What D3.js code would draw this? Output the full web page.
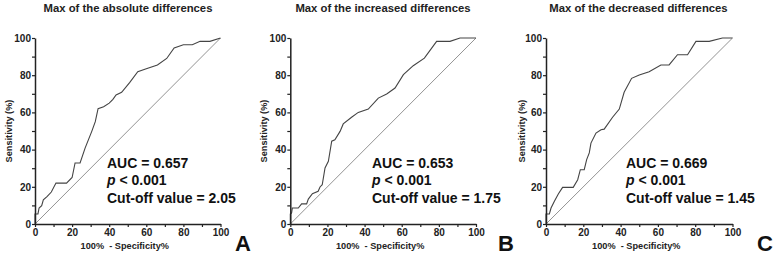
<!DOCTYPE html>
<html>
<head>
<meta charset="utf-8">
<script src="https://cdn.jsdelivr.net/npm/d3@7"></script>
<style>
  html, body { margin: 0; padding: 0; background: #fff; }
  svg { display: block; }
  text { font-family: "Liberation Sans", Arial, sans-serif; }
</style>
</head>
<body>
<svg id="chart" width="776" height="256"></svg>
<script>
// ---- data ----
const titles = ["Max of the absolute differences", "Max of the increased differences", "Max of the decreased differences"];
const panelLetters = ["A", "B", "C"];
const aucValues = ["0.657", "0.653", "0.669"];
const pValues = ["< 0.001", "< 0.001", "< 0.001"];
const cutoffValues = ["2.05", "1.75", "1.45"];
const tickValues = [0, 10, 20, 30, 40, 50, 60, 70, 80, 90, 100];
const tickLabels = ["0", "", "20", "", "40", "", "60", "", "80", "", "100"];
const xLabel = "100%  - Specificity%";
const yLabel = "Sensitivity (%)";

// ROC curves: 100-specificity (x) and sensitivity (y)
const fprA = [0,0,1.6,2.2,3.6,4.5,6.6,8.8,11.3,17,20,21.6,24.3,27,30.6,32.5,34,37,40,42,43.7,46.7,51,55.4,60,66,71,75,80,84.8,89,94.3,100];
const tprA = [0,5.4,5.4,8.6,9.9,13,14.9,17.2,22,22,25,32.8,32.8,40.8,49.8,55,62,63,65,67,69.4,70.8,76,81.9,83.5,85.5,89,94.6,96.4,96.4,98.2,98.2,100];
const fprB = [0,0,0.7,1.1,4.3,6.1,8.8,9.7,11.9,15,16,17.2,18.7,20.5,22.3,24,26.8,28.5,33,36.6,42,47.4,51.9,56.4,60.9,66.2,72.2,78.8,86,91.4,100];
const tprB = [0,5.4,5.9,8.6,8.6,10.8,10.8,13.4,16.3,17.6,19.9,21.1,30.1,33.7,44.5,45.3,49.8,53.8,57.4,60,61.8,67.7,69.9,73.1,80.3,85.1,89.2,98.2,98.2,100,100];
const fprC = [0,0,1.8,2.7,4.5,6.6,8.9,14.6,17,18.4,20.5,21.8,23.2,24.1,26.8,29.5,31.2,35.7,39.3,41.9,45.9,50,55.3,61.6,66,70.5,75.9,80.4,87.5,94.6,100];
const tprC = [0,5.4,5.4,8.6,12.2,16.1,19.7,19.7,23.8,29.2,29.2,34.6,38.2,43.5,48.9,50.7,51,57.4,61.8,70.8,78.3,80.1,81.9,85.5,85.5,91,91,98.2,98.2,100,100];

const curves = [[fprA, tprA], [fprB, tprB], [fprC, tprC]];

// ---- layout ----
const layout = [
  { x0: 35,    x1: 220.5, titleX: 128,   letterX: 235, statX: 107, yLabX: 9 },
  { x0: 290.3, x1: 476,   titleX: 383,   letterX: 498, statX: 372, yLabX: 264 },
  { x0: 546,   x1: 732.5, titleX: 638.5, letterX: 757, statX: 626, yLabX: 522 }
];
const yTop = 38, yBot = 224;

const svg = d3.select("#chart");

layout.forEach((L, i) => {
  const x = d3.scaleLinear().domain([0, 100]).range([L.x0, L.x1]);
  const y = d3.scaleLinear().domain([0, 100]).range([yBot, yTop]);
  const g = svg.append("g");

  // title
  g.append("text").attr("x", L.titleX).attr("y", 11.5)
    .attr("text-anchor", "middle").attr("font-size", 11.3).attr("font-weight", "bold")
    .attr("fill", "#222").text(titles[i]);

  // diagonal reference
  g.append("line")
    .attr("x1", x(0)).attr("y1", y(0)).attr("x2", x(100)).attr("y2", y(100))
    .attr("stroke", "#777").attr("stroke-width", 0.8);

  // ROC curve
  const [fx, ty] = curves[i];
  const pts = fx.map((v, k) => [v, ty[k]]);
  g.append("path").datum(pts)
    .attr("d", d3.line().x(d => x(d[0])).y(d => y(d[1])))
    .attr("fill", "none").attr("stroke", "#444").attr("stroke-width", 1.1);

  // axes
  const fmt = (d) => tickLabels[tickValues.indexOf(d)];
  const ax = g.append("g").attr("transform", `translate(0,${yBot})`)
    .call(d3.axisBottom(x).tickValues(tickValues).tickFormat(fmt).tickSize(3).tickSizeOuter(0));
  const ay = g.append("g").attr("transform", `translate(${L.x0},0)`)
    .call(d3.axisLeft(y).tickValues(tickValues).tickFormat(fmt).tickSize(3).tickSizeOuter(0));
  [ax, ay].forEach(a => {
    a.select(".domain").attr("stroke", "#222").attr("stroke-width", 1.5);
    a.selectAll(".tick line").attr("stroke", "#222").attr("stroke-width", 1.2);
    a.selectAll(".tick text").attr("font-size", 10).attr("font-weight", "bold")
      .attr("fill", "#222").attr("font-family", "Liberation Sans, Arial, sans-serif");
  });
  ax.selectAll(".tick text").attr("dy", "0.71em").attr("y", 5);
  ay.selectAll(".tick text").attr("x", -4);

  // axis labels
  g.append("text").attr("x", (L.x0 + L.x1) / 2 - 3).attr("y", 249)
    .attr("text-anchor", "middle").attr("font-size", 9.2).attr("font-weight", "bold")
    .attr("fill", "#222").attr("xml:space", "preserve").style("white-space", "pre").text(xLabel);
  g.append("text")
    .attr("transform", `translate(${L.yLabX + 3},${(yTop + yBot) / 2}) rotate(-90)`)
    .attr("text-anchor", "middle").attr("font-size", 9.2).attr("font-weight", "bold")
    .attr("fill", "#222").text(yLabel);

  // stats
  const st = g.append("g").attr("font-size", 14).attr("font-weight", "bold").attr("fill", "#111");
  st.append("text").attr("x", L.statX).attr("y", 167.5).text("AUC = " + aucValues[i]);
  const pt = st.append("text").attr("x", L.statX).attr("y", 185);
  pt.append("tspan").attr("font-style", "italic").text("p");
  pt.append("tspan").text(" " + pValues[i]);
  st.append("text").attr("x", L.statX).attr("y", 202.5).text("Cut-off value = " + cutoffValues[i]);

  // panel letter
  g.append("text").attr("x", L.letterX).attr("y", 250.5)
    .attr("font-size", 22).attr("font-weight", "bold").attr("fill", "#111").text(panelLetters[i]);
});
</script>
</body>
</html>
